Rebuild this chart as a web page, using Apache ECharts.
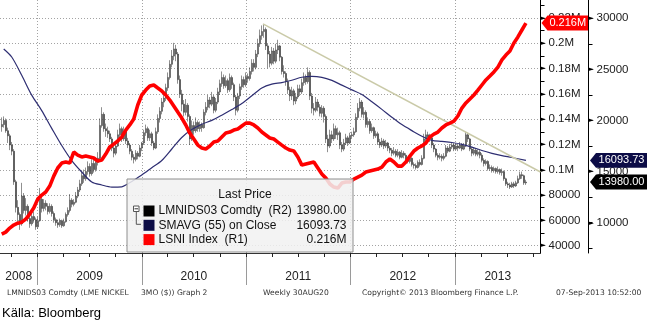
<!DOCTYPE html>
<html><head><meta charset="utf-8">
<script src="https://cdn.jsdelivr.net/npm/echarts@6/dist/echarts.min.js"></script>
<style>html,body{margin:0;padding:0;background:#fff;}#c{width:652px;height:323px;}</style>
</head><body><div id="c"></div>
<script>
// ---------------- DATA ----------------
const firstWeek = '2008-08-29';           // first weekly bar (Friday)
// LMNIDS03 Comdty weekly bars: [open, close, low, high]
const nickelOHLC = [
[19400,19600,18900,20300],[19600,20000,19300,20400],[20000,19000,18800,20200],[19000,18500,17800,19300],[18500,17600,17100,18700],[17600,17000,16600,17900],
[17000,14000,13700,17200],[14000,11500,11000,14200],[11500,10800,9800,12200],[10800,9900,9300,11000],[9900,12600,9700,13900],[12600,11200,10900,12900],
[11200,11600,10700,12400],[11600,10400,10100,11800],[10400,9900,9500,10700],[9900,10600,9700,11000],[10600,10300,10000,11100],[10300,9600,9300,10500],
[9600,10200,9400,10600],[10200,12300,10100,13400],[12300,11400,11000,12600],[11400,11900,11100,12300],[11900,11600,11200,12200],[11600,11100,10800,11900],
[11100,11600,10900,11900],[11600,10900,10600,11800],[10900,10300,10000,11100],[10300,10000,9700,10500],[10000,9800,9500,10300],[9800,10200,9600,10400],
[10200,9700,9500,10300],[9700,10100,9600,10400],[10100,10800,10000,11000],[10800,11200,10600,11500],[11200,12200,11000,12800],[12200,11800,11500,12400],
[11800,12000,11600,12300],[12000,12600,11900,13000],[12600,13200,12400,13500],[13200,13800,13000,14200],[13800,14600,13600,15000],[14600,14300,13900,15200],
[14300,15000,14100,15400],[15000,15500,14700,16000],[15500,14800,14500,15800],[14800,15800,14600,16200],[15800,15200,14900,16300],[15200,15900,15000,16400],
[15900,16300,15600,16900],[16300,19500,16200,20200],[19500,20600,19300,21300],[20600,19200,18900,20800],[19200,19000,18400,19700],[19000,18700,18300,19400],
[18700,18200,17900,19000],[18200,17300,17000,18400],[17300,16800,16400,17600],[16800,17500,16600,17800],[17500,18600,17400,19100],[18600,19200,18300,19700],
[19200,18200,17900,19400],[18200,18900,18000,19400],[18900,18000,17700,19200],[18000,17600,17300,18300],[17600,17000,16700,17800],[17000,16400,16100,17200],
[16400,16200,15800,16700],[16200,16800,16000,17100],[16800,16500,16200,17000],[16500,17300,16400,17600],[17300,17800,17000,17900],[17800,18800,17600,19100],
[18800,19200,18500,19600],[19200,18300,18000,19400],[18300,18700,18000,19100],[18700,17800,17500,18900],[17800,17300,17100,18000],[17300,18900,17200,19300],
[18900,20200,18700,20600],[20200,20900,19800,21300],[20900,21800,20600,22200],[21800,22200,21300,22600],[22200,23200,21900,23600],[23200,24200,22900,24700],
[24200,25500,24000,25900],[25500,26300,25200,26900],[26300,27000,25900,27600],[27000,26500,25800,27400],[26500,24000,23600,26700],[24000,22600,22200,24400],
[22600,21600,20900,23000],[21600,20800,20400,22000],[20800,21500,20500,22100],[21500,20400,19900,21700],[20400,18200,17600,20600],[18200,19500,18000,20000],
[19500,19000,18600,19900],[19000,19800,18800,20300],[19800,19200,18900,20000],[19200,19600,18900,19900],[19600,19300,18900,19800],[19300,20800,19200,21100],
[20800,21300,20500,21800],[21300,22000,21000,22500],[22000,21600,21200,22300],[21600,22300,21400,22800],[22300,21000,20700,22500],[21000,21800,20800,22200],
[21800,22800,21600,23200],[22800,23600,22500,24000],[23600,24200,23300,24800],[24200,23400,23100,24500],[23400,23900,23200,24400],[23900,23000,22700,24100],
[23000,24200,22800,24600],[24200,23500,23100,24400],[23500,22300,21900,23700],[22300,21000,20500,22500],[21000,22400,20800,22700],[22400,23300,22100,23600],
[23300,24000,23000,24400],[24000,23500,23200,24300],[23500,24300,23300,24700],[24300,24100,23700,24600],[24100,24800,23900,25200],[24800,25600,24500,26000],
[25600,25200,24800,26000],[25200,26500,25000,26900],[26500,27500,26200,28000],[27500,28300,27200,28900],[28300,28700,27900,29300],[28700,28900,28100,29400],
[28900,27300,26900,29100],[27300,26500,25100,27500],[26500,25600,25200,26800],[25600,26800,25400,27200],[26800,25800,25500,27100],[25800,26900,25600,27500],
[26900,27300,26500,27900],[27300,26200,25800,27400],[26200,24800,24500,26300],[24800,24600,24200,25400],[24600,23800,23400,24800],[23800,23000,22600,24100],
[23000,22400,21900,23300],[22400,22900,22000,23300],[22900,21900,21500,23100],[21900,22300,21600,22700],[22300,23100,22100,23500],[23100,22800,22400,23500],
[22800,23700,22600,24100],[23700,24200,23400,24700],[24200,23800,23500,24500],[23800,24700,23600,25200],[24700,22400,22000,24900],[22400,21200,20700,22700],
[21200,21000,20500,21700],[21000,21800,20800,22300],[21800,21300,20900,22100],[21300,20700,20400,21600],[20700,21200,20300,21500],[21200,20400,19800,21400],
[20400,18200,17800,20600],[18200,17500,16900,18600],[17500,18600,17300,19100],[18600,18200,17800,19000],[18200,19200,18000,19700],[19200,18600,18200,19500],
[18600,18800,18100,19300],[18800,17600,17200,19000],[17600,17200,16900,17900],[17200,17800,17000,18200],[17800,18300,17600,18700],[18300,17800,17500,18500],
[17800,18500,17700,18800],[18500,18600,18200,18900],[18600,18900,18400,19300],[18900,20300,18800,20700],[20300,21200,20100,21700],[21200,21800,20900,22200],
[21800,20600,20300,22000],[20600,20800,20200,21300],[20800,19600,19300,21000],[19600,19900,19300,20300],[19900,19000,18700,20100],[19000,19300,18800,19700],
[19300,18500,18200,19400],[18500,18700,18300,19000],[18700,17900,17600,18900],[17900,17600,17300,18200],[17600,18000,17400,18300],[18000,17500,17200,18200],
[17500,17800,17300,18100],[17800,17300,17000,17900],[17300,17100,16800,17500],[17100,16800,16500,17300],[16800,17000,16600,17400],[17000,16600,16400,17200],
[16600,16900,16400,17200],[16900,16400,16200,17000],[16400,16800,16300,17100],[16800,16600,16300,17000],[16600,16200,16000,16800],[16200,16000,15800,16400],
[16000,16300,15800,16500],[16300,15700,15500,16400],[15700,15600,15300,15900],[15600,15400,15200,15800],[15400,15900,15300,16100],[15900,15700,15500,16200],
[15700,16300,15600,16600],[16300,18200,16200,18700],[18200,18600,18000,19100],[18600,18400,18100,18900],[18400,18300,17900,18700],[18300,17600,17300,18400],
[17600,17200,16900,17800],[17200,16600,16400,17300],[16600,16400,16100,16800],[16400,16500,16200,16800],[16500,16300,16000,16700],[16300,16500,16100,16800],
[16500,17300,16400,17600],[17300,17000,16800,17500],[17000,17400,16900,17700],[17400,17600,17200,17900],[17600,17200,17000,17800],[17200,17500,17100,17800],
[17500,17300,17000,17700],[17300,17600,17200,17900],[17600,17200,17000,17800],[17200,17500,17100,17800],[17500,18600,17400,18900],[18600,18200,17900,18800],
[18200,17200,17000,18300],[17200,16800,16500,17400],[16800,17100,16600,17400],[17100,16700,16500,17300],[16700,16900,16500,17200],[16900,16600,16300,17100],
[16600,16100,15900,16800],[16100,15800,15500,16300],[15800,16000,15600,16200],[16000,15300,15100,16100],[15300,15400,15100,15700],[15400,15100,14900,15600],
[15100,15300,14900,15500],[15300,15000,14800,15400],[15000,15200,14800,15500],[15200,14900,14700,15300],[14900,15000,14600,15300],[15000,14300,14100,15100],
[14300,13800,13600,14400],[13800,13700,13400,14000],[13700,13500,13300,13900],[13500,13800,13400,14000],[13800,13600,13400,14000],[13600,13900,13500,14100],
[13900,14300,13800,14600],[14300,14700,14200,15000],[14700,14600,14300,15000],[14600,13900,13700,14700],[13900,13980,13700,14200]
];
// SMAVG (55) on Close: week index -> value
const smaWeeks  = [1,5,10,15,20,25,30,35,40,45,50,55,60,63,65,70,75,80,85,90,95,100,105,110,115,120,125,130,135,140,145,150,155,160,165,170,175,180,185,190,195,200,205,210,215,220,225,230,235,240,245,250,255,262];
const smaValues = [27000,26210,24420,22480,20970,19230,17550,16080,14960,13980,13690,13490,13510,13790,14030,14670,15380,16090,17210,18340,19110,19640,20010,20520,21070,21660,22420,23180,23560,23710,23940,24230,24320,24220,23920,23460,23000,22540,21830,21090,20320,19600,19010,18460,18060,17960,17850,17670,17400,17060,16790,16570,16380,16093.73];
// LSNI Index, one reading every 2 weeks
const lsniStepWeeks = 2;
const lsniValues = [
49100,50700,53900,56300,57800,58600,61000,65000,69700,76800,
80000,82400,87100,95000,101400,105300,106100,105300,114000,111600,
110100,110800,110100,109300,106900,107700,112400,118000,120300,122700,
125900,131400,135400,140100,151200,159100,163000,166200,167000,164600,
162300,159100,155100,150400,145600,140900,135400,129000,124300,119500,
117200,116400,118800,121900,122700,125900,129000,129800,131400,132200,
134600,136900,136900,135400,133000,129800,127500,125100,124300,121900,
119500,117200,115600,114800,110100,103700,104500,105300,106100,101400,
96600,93400,88700,86300,85500,89500,90300,90300,92600,94200,
95800,98200,99000,99800,100600,102100,106100,108500,106100,102900,
102900,106100,110800,114800,117200,118800,121100,125900,128200,129800,
133000,135400,136900,138500,142500,148800,152800,155900,159100,163000,
167000,171000,174100,177300,181200,186800,190700,193900,200200,205000,
210500,216000];
// trend line drawn on the price chart
const trendDates  = ['2011-03-01','2013-10-27'];
const trendValues = [29460, 14960];
// axis texts
const yearLabels   = ['2008','2009','2010','2011','2012','2013'];
const r1TickValues = [40000,60000,80000,100000,120000,140000,160000,180000,200000,220000];
const r1TickLabels = ['40000','60000','80000','0.1M','0.12M','0.14M','0.16M','0.18M','0.2M','0.22M'];
const r2TickValues = [10000,15000,20000,25000,30000];
const legendTitle  = 'Last Price';
const legendNames  = ['LMNIDS03 Comdty  (R2)','SMAVG (55) on Close','LSNI Index  (R1)'];
const legendValues = ['13980.00','16093.73','0.216M'];
const footerTexts  = ['LMNIDS03 Comdty (LME NICKEL','3MO ($)) Graph 2','Weekly 30AUG20','Copyright\u00a9 2013 Bloomberg Finance L.P.','07-Sep-2013 10:52:00'];
const sourceText   = 'K\u00e4lla: Bloomberg';

// ---------------- BUILD ----------------
const DAY = 86400000;
const t0 = Date.parse(firstWeek);
const xMin = Date.UTC(2008,7,23), xMax = Date.UTC(2013,9,27);
const r1Min = 34200, r1Max = 234200;
const r2Min = 7035,  r2Max = 31790;
const FONT = 'Liberation Sans';

const candleData = nickelOHLC.map((r,i)=>[t0 + i*7*DAY, r[0], r[1], r[2], r[3]]);
const smaData = smaWeeks.map((w,k)=>[t0 + w*7*DAY, smaValues[k]]);
const lsniData = lsniValues.map((v,k)=>[t0 + k*lsniStepWeeks*7*DAY, v]);
const trendData = trendDates.map((d,k)=>[Date.parse(d), trendValues[k]]);

const yearStarts = [], quarterStarts = [], yearCenters = [];
yearLabels.forEach(lbl=>{
  const y = +lbl;
  const s = Date.UTC(y,0,1), e = Date.UTC(y+1,0,1);
  if (s > xMin && s < xMax) yearStarts.push(s);
  for (let m=0;m<12;m+=3){ const q=Date.UTC(y,m,1); if(q>xMin&&q<xMax) quarterStarts.push(q); }
  yearCenters.push((Math.max(s,xMin)+Math.min(e,xMax))/2);
});
const r1Minor=[]; for(let v=Math.ceil(r1Min/10000)*10000; v<=r1Max; v+=10000) r1Minor.push(v);
const r2Minor=[]; for(let v=Math.ceil(r2Min/2500)*2500; v<=r2Max; v+=2500) r2Minor.push(v);

const dotted = {color:'#a3a3a3', width:1, type:[1,2]};
const arrowRich = {a:{fontSize:7, color:'#000', width:8, fontFamily:'DejaVu Sans'}, b:{fontSize:11.5, color:'#1a1a1a', fontFamily:FONT}};

const chart = echarts.init(document.getElementById('c'), null, {renderer:'canvas', width:652, height:323});
chart.setOption({
  animation:false,
  backgroundColor:'#fff',
  grid:{left:0, right:111.5, top:0, bottom:70, containLabel:false, outerBoundsMode:'none'},
  xAxis:[
    {type:'value', min:xMin, max:xMax, position:'bottom',
     axisLine:{show:true, lineStyle:{color:'#333', width:1}},
     axisTick:{show:true, length:32, customValues:yearStarts, lineStyle:{color:'#9a9a9a', width:1}},
     axisLabel:{show:true, customValues:yearCenters, margin:18, fontSize:12, color:'#222', fontFamily:FONT,
       formatter:v=>{let b=0,d=Infinity; yearCenters.forEach((c,i)=>{if(Math.abs(c-v)<d){d=Math.abs(c-v);b=i;}}); return yearLabels[b];}},
     splitLine:{show:true, lineStyle:dotted}},
    {type:'value', min:xMin, max:xMax, position:'bottom',
     axisLine:{show:false},
     axisTick:{show:true, length:4, customValues:quarterStarts, lineStyle:{color:'#222'}},
     axisLabel:{show:false}, splitLine:{show:false}}
  ],
  yAxis:[
    {type:'value', position:'right', min:r1Min, max:r1Max,
     axisLine:{show:true, lineStyle:{color:'#000', width:1}},
     axisTick:{show:true, inside:false, length:4, customValues:r1Minor, lineStyle:{color:'#000'}},
     axisLabel:{show:true, customValues:r1TickValues, margin:0, rich:arrowRich,
       formatter:v=>{const i=r1TickValues.indexOf(v); return '{a|\u25ba}{b|'+(i>=0?r1TickLabels[i]:v)+'}';}},
     splitLine:{show:false}},
    {type:'value', position:'right', offset:48, min:r2Min, max:r2Max,
     axisLine:{show:true, lineStyle:{color:'#000', width:1}},
     axisTick:{show:true, inside:false, length:4, customValues:r2Minor, lineStyle:{color:'#000'}},
     axisLabel:{show:true, customValues:r2TickValues, margin:0, rich:arrowRich,
       formatter:v=>'{a|\u25ba}{b|'+v+'}'},
     splitLine:{show:false}},
    {type:'value', position:'right', min:r1Min, max:r1Max,
     axisLine:{show:false}, axisTick:{show:false, customValues:r1TickValues},
     axisLabel:{show:false}, splitLine:{show:true, lineStyle:dotted}}
  ],
  series:[
    {type:'candlestick', name:'LMNIDS03 Comdty', xAxisIndex:0, yAxisIndex:1, data:candleData,
     encode:{x:0, y:[1,2,3,4]}, barWidth:1.9,
     itemStyle:{color:'#8c8c8c', color0:'#4a4a4a', borderColor:'#202020', borderColor0:'#202020', borderWidth:0.5}},
    {type:'line', name:'SMAVG (55) on Close', xAxisIndex:0, yAxisIndex:1, data:smaData, symbol:'none', smooth:0.3,
     lineStyle:{color:'#2e2e72', width:1.2}},
    {type:'line', name:'trend', xAxisIndex:0, yAxisIndex:1, data:trendData, symbol:'none',
     lineStyle:{color:'#cacaa8', width:1.5}},
    {type:'line', name:'LSNI Index', xAxisIndex:0, yAxisIndex:0, data:lsniData, symbol:'none',
     lineStyle:{color:'#ff0000', width:3.6}}
  ]
});

// ---------- annotations (tags, legend box, footer) ----------
const axR1 = chart.convertToPixel({xAxisIndex:0}, xMax);
const axR2 = axR1 + 48;
function tag(x0, w, yc, fill, text){
  const h = 7.4;
  return [
    {type:'polygon', z:100, shape:{points:[[x0,yc],[x0+6,yc-h],[x0+w,yc-h],[x0+w,yc+h],[x0+6,yc+h]]}, style:{fill:fill}},
    {type:'text', z:101, style:{x:x0+6+(w-6)/2, y:yc, text:text, fill:'#fff', font:'11px "'+FONT+'"', align:'center', verticalAlign:'middle'}}
  ];
}
const lastClose = nickelOHLC[nickelOHLC.length-1][1];
const yRed = chart.convertToPixel({yAxisIndex:0}, lsniValues[lsniValues.length-1]);
const ySma = chart.convertToPixel({yAxisIndex:1}, smaValues[smaValues.length-1]);
const yCls = chart.convertToPixel({yAxisIndex:1}, lastClose);

const g = [];
g.push(...tag(axR1+1, 46.5, yRed, '#ff0000', legendValues[2]));
g.push(...tag(axR2+1.5, 57, ySma, '#0c0c46', legendValues[1]));
g.push(...tag(axR2+1.5, 57, yCls, '#000000', legendValues[0]));

// legend box
const LX=127, LY=179, LW=226, LH=73;
g.push({type:'rect', z:90, shape:{x:LX, y:LY, width:LW, height:LH}, style:{fill:'rgba(241,241,241,0.86)', stroke:'#8e8e8e', lineWidth:1}});
g.push({type:'text', z:91, style:{x:LX+LW/2+5, y:LY+16, text:legendTitle, fill:'#111', font:'12px "'+FONT+'"', align:'center', verticalAlign:'middle'}});
const rowY=[LY+32, LY+46.3, LY+60.6];
const swatch=['#000000','#0c0c46','#ff0000'];
rowY.forEach((y,i)=>{
  g.push({type:'rect', z:91, shape:{x:LX+16.5, y:y-5.5, width:11, height:11}, style:{fill:swatch[i]}});
  g.push({type:'text', z:91, style:{x:LX+31.5, y:y, text:legendNames[i], fill:'#111', font:'12px "'+FONT+'"', align:'left', verticalAlign:'middle'}});
  g.push({type:'text', z:91, style:{x:LX+219.5, y:y, text:legendValues[i], fill:'#111', font:'12px "'+FONT+'"', align:'right', verticalAlign:'middle'}});
});
// small tree icon
g.push({type:'rect', z:91, shape:{x:LX+6.5, y:rowY[0]-5, width:5.5, height:5.5}, style:{fill:'#fff', stroke:'#555', lineWidth:1}});
g.push({type:'line', z:92, shape:{x1:LX+7.5, y1:rowY[0]-2.2, x2:LX+11, y2:rowY[0]-2.2}, style:{stroke:'#333', lineWidth:1}});
g.push({type:'polyline', z:91, shape:{points:[[LX+9.3,rowY[0]+0.5],[LX+9.3,rowY[1]-1],[LX+14,rowY[1]-1]]}, style:{stroke:'#555', lineWidth:1, fill:null}});

// footer
const footX=[7,141,263,362,556];
footerTexts.forEach((t,i)=>g.push({type:'text', z:50, style:{x:footX[i], y:293, text:t, fill:'#333', font:'7.6px "DejaVu Sans"', align:'left', verticalAlign:'middle'}}));
g.push({type:'text', z:50, style:{x:2, y:313, text:sourceText, fill:'#000', font:'13px "'+FONT+'"', align:'left', verticalAlign:'middle'}});

chart.setOption({graphic:{elements:g}});
</script></body></html>
